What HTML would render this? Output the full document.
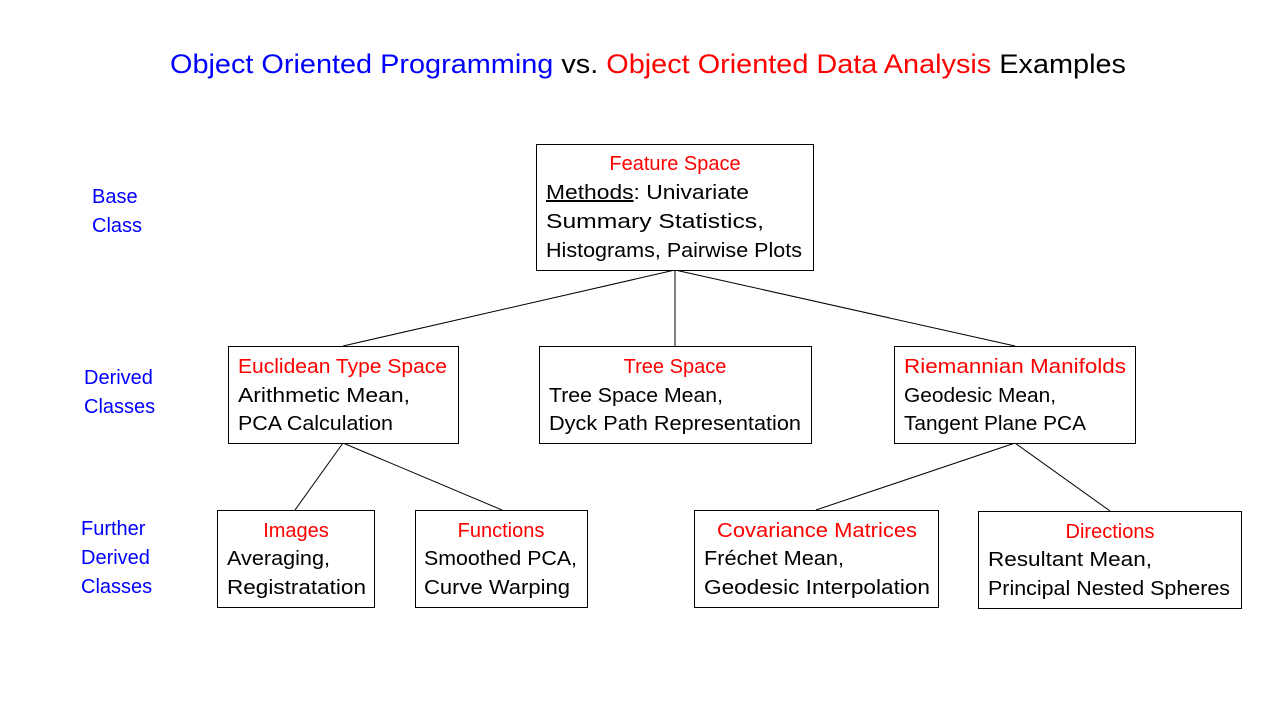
<!DOCTYPE html>
<html><head><meta charset="utf-8"><style>
html,body{margin:0;padding:0;background:#fff;}
svg{display:block;font-family:"Liberation Sans",Arial,sans-serif;}
</style></head><body>
<svg width="1280" height="720" viewBox="0 0 1280 720" xmlns="http://www.w3.org/2000/svg">
<rect width="1280" height="720" fill="#fff"/>
<text x="170" y="73" font-size="27" textLength="956" lengthAdjust="spacingAndGlyphs"><tspan fill="#0000ff">Object Oriented Programming</tspan><tspan fill="#000"> vs. </tspan><tspan fill="#ff0000">Object Oriented Data Analysis</tspan><tspan fill="#000"> Examples</tspan></text>

<g fill="#0000ff" font-size="20">
<text x="92" y="203">Base</text><text x="92" y="232">Class</text>
<text x="84" y="384">Derived</text><text x="84" y="413">Classes</text>
<text x="81" y="535">Further</text><text x="81" y="564">Derived</text><text x="81" y="593">Classes</text>
</g>

<g stroke="#000" stroke-width="1">
<line x1="675" y1="270" x2="343" y2="346"/>
<line x1="675" y1="270" x2="675" y2="346"/>
<line x1="675" y1="270" x2="1015" y2="346"/>
<line x1="343" y1="443" x2="295" y2="510"/>
<line x1="343" y1="443" x2="502" y2="510"/>
<line x1="1015" y1="443" x2="816" y2="510"/>
<line x1="1015" y1="443" x2="1110" y2="511"/>
</g>
<g fill="#fff" stroke="#000" stroke-width="1">
<rect x="536.5" y="144.5" width="277" height="126"/>
<rect x="228.5" y="346.5" width="230" height="97"/>
<rect x="539.5" y="346.5" width="272" height="97"/>
<rect x="894.5" y="346.5" width="241" height="97"/>
<rect x="217.5" y="510.5" width="157" height="97"/>
<rect x="415.5" y="510.5" width="172" height="97"/>
<rect x="694.5" y="510.5" width="244" height="97"/>
<rect x="978.5" y="511.5" width="263" height="97"/>
</g>

<g font-size="20">
<text x="675" y="170" fill="#ff0000" text-anchor="middle">Feature Space</text>
<text x="546" y="199" textLength="203" lengthAdjust="spacingAndGlyphs"><tspan text-decoration="underline">Methods</tspan>: Univariate</text>
<text x="546" y="228" textLength="218" lengthAdjust="spacingAndGlyphs">Summary Statistics,</text>
<text x="546" y="257" textLength="256" lengthAdjust="spacingAndGlyphs">Histograms, Pairwise Plots</text>

<text x="238" y="373" fill="#ff0000" textLength="209" lengthAdjust="spacingAndGlyphs">Euclidean Type Space</text>
<text x="238" y="402" textLength="172" lengthAdjust="spacingAndGlyphs">Arithmetic Mean,</text>
<text x="238" y="430" textLength="155" lengthAdjust="spacingAndGlyphs">PCA Calculation</text>

<text x="675" y="373" fill="#ff0000" text-anchor="middle">Tree Space</text>
<text x="549" y="402" textLength="174" lengthAdjust="spacingAndGlyphs">Tree Space Mean,</text>
<text x="549" y="430" textLength="252" lengthAdjust="spacingAndGlyphs">Dyck Path Representation</text>

<text x="904" y="373" fill="#ff0000" textLength="222" lengthAdjust="spacingAndGlyphs">Riemannian Manifolds</text>
<text x="904" y="402" textLength="152" lengthAdjust="spacingAndGlyphs">Geodesic Mean,</text>
<text x="904" y="430" textLength="182" lengthAdjust="spacingAndGlyphs">Tangent Plane PCA</text>

<text x="296" y="537" fill="#ff0000" text-anchor="middle">Images</text>
<text x="227" y="565" textLength="103" lengthAdjust="spacingAndGlyphs">Averaging,</text>
<text x="227" y="594" textLength="139" lengthAdjust="spacingAndGlyphs">Registratation</text>

<text x="501" y="537" fill="#ff0000" text-anchor="middle">Functions</text>
<text x="424" y="565" textLength="153" lengthAdjust="spacingAndGlyphs">Smoothed PCA,</text>
<text x="424" y="594" textLength="146" lengthAdjust="spacingAndGlyphs">Curve Warping</text>

<text x="717" y="537" fill="#ff0000" textLength="200" lengthAdjust="spacingAndGlyphs">Covariance Matrices</text>
<text x="704" y="565" textLength="140" lengthAdjust="spacingAndGlyphs">Fréchet Mean,</text>
<text x="704" y="594" textLength="226" lengthAdjust="spacingAndGlyphs">Geodesic Interpolation</text>

<text x="1110" y="538" fill="#ff0000" text-anchor="middle">Directions</text>
<text x="988" y="566" textLength="164" lengthAdjust="spacingAndGlyphs">Resultant Mean,</text>
<text x="988" y="595" textLength="242" lengthAdjust="spacingAndGlyphs">Principal Nested Spheres</text>
</g>
</svg>
</body></html>
